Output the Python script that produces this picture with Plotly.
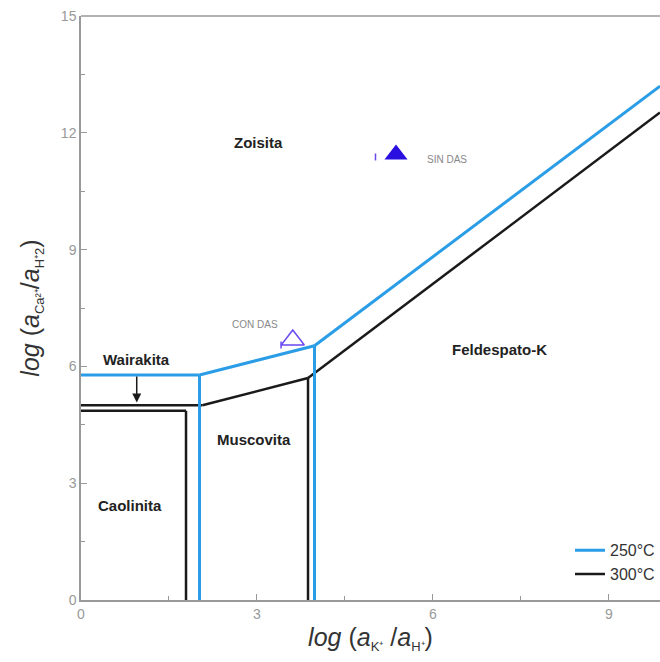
import plotly.graph_objects as go

# ---- data ----
# 250 °C boundaries
b250_wai_zoi_x = [0, 2.02]
b250_wai_zoi_y = [5.78, 5.78]
b250_cao_mus_x = [2.02, 2.02]
b250_cao_mus_y = [5.78, 0]
b250_zoi_mus_x = [2.02, 3.98]
b250_zoi_mus_y = [5.78, 6.53]
b250_mus_fel_x = [3.98, 3.98]
b250_mus_fel_y = [6.53, 0]
b250_zoi_fel_x = [3.98, 9.87]
b250_zoi_fel_y = [6.53, 13.2]

# 300 °C boundaries
b300_wai_mus_x = [0, 2.07]
b300_wai_mus_y = [5.0, 5.0]
b300_wai_cao_x = [0, 1.79]
b300_wai_cao_y = [4.86, 4.86]
b300_cao_mus_x = [1.79, 1.79]
b300_cao_mus_y = [4.86, 0]
b300_zoi_mus_x = [2.07, 3.87]
b300_zoi_mus_y = [5.0, 5.7]
b300_mus_fel_x = [3.87, 3.87]
b300_mus_fel_y = [5.7, 0]
b300_zoi_fel_x = [3.87, 9.87]
b300_zoi_fel_y = [5.7, 12.52]

# samples
sample_names = ["CON DAS", "SIN DAS"]
sample_x = [3.61, 5.37]
sample_y = [6.68, 11.44]
sample_tick_x = [3.41, 5.02]
sample_tick_y = [6.55, 11.38]

# field labels
field_names = ["Zoisita", "Wairakita", "Muscovita", "Caolinita", "Feldespato-K"]
field_x = [3.03, 0.94, 2.95, 0.83, 7.14]
field_y = [11.75, 6.17, 4.11, 2.44, 6.43]

tick_vals = [0, 3, 6, 9, 12, 15]
xtick_vals = [0, 3, 6, 9]

BLUE = "#2a9de6"
BLACK = "#1a1a1a"
FONT = "Liberation Sans, Arial, sans-serif"

fig = go.Figure()

def seg(x, y, color, width, name=None, show=False):
    fig.add_trace(go.Scatter(x=x, y=y, mode="lines",
                             line=dict(color=color, width=width),
                             name=name, showlegend=show, hoverinfo="skip"))

for x, y in [(b300_wai_mus_x, b300_wai_mus_y), (b300_wai_cao_x, b300_wai_cao_y),
             (b300_cao_mus_x, b300_cao_mus_y), (b300_zoi_mus_x, b300_zoi_mus_y),
             (b300_mus_fel_x, b300_mus_fel_y), (b300_zoi_fel_x, b300_zoi_fel_y)]:
    seg(x, y, BLACK, 2.5)
for x, y in [(b250_wai_zoi_x, b250_wai_zoi_y), (b250_cao_mus_x, b250_cao_mus_y),
             (b250_zoi_mus_x, b250_zoi_mus_y), (b250_mus_fel_x, b250_mus_fel_y),
             (b250_zoi_fel_x, b250_zoi_fel_y)]:
    seg(x, y, BLUE, 3)

# legend entries
fig.add_trace(go.Scatter(x=[None], y=[None], mode="lines", line=dict(color=BLUE, width=3),
                         name="250°C"))
fig.add_trace(go.Scatter(x=[None], y=[None], mode="lines", line=dict(color=BLACK, width=2.5),
                         name="300°C"))

# samples
fig.add_trace(go.Scatter(x=sample_x[:1], y=sample_y[:1], mode="markers", showlegend=False,
                         marker=dict(symbol="triangle-up-open", size=20, color="#6a48f0",
                                     line=dict(width=1.5, color="#6a48f0"))))
fig.add_trace(go.Scatter(x=sample_x[1:], y=sample_y[1:], mode="markers", showlegend=False,
                         marker=dict(symbol="triangle-up", size=20, color="#2a10e0")))
fig.add_trace(go.Scatter(x=sample_tick_x, y=sample_tick_y, mode="markers", showlegend=False,
                         marker=dict(symbol="line-ns-open", size=5, color="#6a48f0",
                                     line=dict(width=1.5, color="#6a48f0"))))

annotations = []
for n, x, y in zip(field_names, field_x, field_y):
    annotations.append(dict(x=x, y=y, text=f"<b>{n}</b>", showarrow=False,
                            font=dict(family=FONT, size=15, color="#222")))
annotations.append(dict(x=2.96, y=7.07, text="CON DAS", showarrow=False,
                        font=dict(family=FONT, size=10, color="#888")))
annotations.append(dict(x=5.86, y=11.31, text="SIN DAS", showarrow=False, xanchor="left",
                        font=dict(family=FONT, size=10, color="#888")))
# arrow Wairakita -> lower boundary
annotations.append(dict(x=0.95, y=5.07, ax=0.95, ay=5.78, xref="x", yref="y",
                        axref="x", ayref="y", showarrow=True, arrowhead=2,
                        arrowsize=1.2, arrowwidth=1.5, arrowcolor=BLACK, text=""))

SUB = "<sub><span style='font-size:13px'>{}</span></sub>"
x_title = ("<i>log</i> (<i>a</i>" + SUB.format("K⁺") + " /<i>a</i>" + SUB.format("H⁺") + ")")
y_title = ("<i>log</i> (<i>a</i>" + SUB.format("Ca²⁺") + "/<i>a</i>" + SUB.format("H⁺2") + ")")

fig.update_layout(
    width=660, height=662,
    margin=dict(l=81, r=0, t=16, b=62),
    paper_bgcolor="white", plot_bgcolor="white",
    font=dict(family=FONT, color="#888"),
    annotations=annotations,
    legend=dict(x=1, xanchor="right", y=0.015, yanchor="bottom",
                font=dict(family=FONT, size=16, color="#333"),
                bgcolor="rgba(0,0,0,0)", tracegroupgap=0),
    shapes=[dict(type="line", xref="paper", yref="paper", x0=0, x1=1, y0=1, y1=1,
                 line=dict(color="#999", width=1.5))],
)
fig.update_xaxes(range=[0, 9.87], showgrid=False, zeroline=False,
                 showline=True, linecolor="#999", linewidth=1.5,
                 ticks="inside", ticklen=6, tickcolor="#999", tickvals=xtick_vals,
                 minor=dict(ticks="inside", ticklen=4, tickcolor="#999", tickvals=[1.5, 4.5, 7.5]),
                 tickfont=dict(family=FONT, size=14, color="#999"),
                 title=dict(text=x_title,
                            font=dict(family=FONT, size=25, color="#333"), standoff=8))
fig.update_yaxes(range=[0, 15], showgrid=False, zeroline=False,
                 showline=True, linecolor="#999", linewidth=1.5,
                 ticks="inside", ticklen=6, tickcolor="#999", tickvals=tick_vals,
                 minor=dict(ticks="inside", ticklen=4, tickcolor="#999",
                            tickvals=[1.5, 4.5, 7.5, 10.5, 13.5]),
                 tickfont=dict(family=FONT, size=14, color="#999"),
                 title=dict(text=y_title,
                            font=dict(family=FONT, size=25, color="#333"), standoff=14))

fig.write_html("out.html")
